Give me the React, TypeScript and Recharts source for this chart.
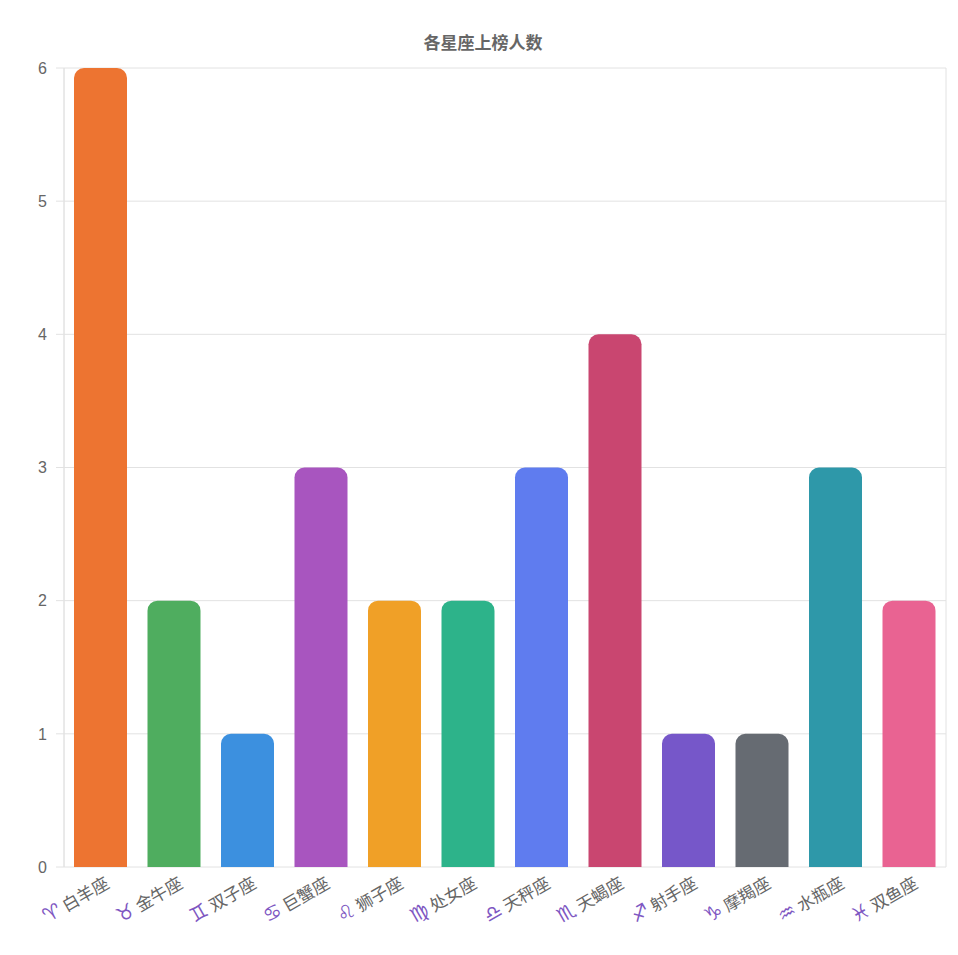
import React from 'react'
import { BarChart, Bar, XAxis, YAxis, CartesianGrid, Cell } from 'recharts'

const signs = ['♈', '♉', '♊', '♋', '♌', '♍', '♎', '♏', '♐', '♑', '♒', '♓']
const names = ['白羊座', '金牛座', '双子座', '巨蟹座', '狮子座', '处女座', '天秤座', '天蝎座', '射手座', '摩羯座', '水瓶座', '双鱼座']
const counts = [6, 2, 1, 3, 2, 2, 3, 4, 1, 1, 3, 2]
const colors = [
  '#ED7431', '#4FAD5F', '#3C90DF', '#A855BF', '#F0A027', '#2DB38A',
  '#5F7CEF', '#C94670', '#7657C9', '#666B72', '#2E98A9', '#E96392',
]
const yTicks = [0, 1, 2, 3, 4, 5, 6]
const boundaryTicks = [0, 1, 2, 3, 4, 5, 6, 7, 8, 9, 10, 11, 12]

const data = names.map((n, i) => ({ name: `${signs[i]} ${n}`, count: counts[i] }))

const GRID = '#e2e2e2'
const CJK = '"Noto Sans CJK SC", "Noto Sans", sans-serif'

function ZodiacTick({ x, y, payload }: any) {
  const [sym, name] = String(payload.value).split(' ')
  return (
    <g transform={`translate(${x + 3},${y + 8})`}>
      <text textAnchor="end" transform="rotate(-30)" dy="0.8em" fontSize={17} fill="#666" fontFamily={CJK}>
        <tspan fill="#7E57C2" fontSize={20} fontWeight={700} fontFamily='"DejaVu Sans", sans-serif'>{sym}</tspan>
        <tspan dx={4}>{name}</tspan>
      </text>
    </g>
  )
}

export default function App() {
  return (
    <div style={{ position: 'absolute', left: 0, top: 0, width: 958, height: 955, background: '#fff' }}>
      <div
        style={{
          position: 'absolute', top: 31, left: 8, width: 950, textAlign: 'center',
          fontFamily: CJK, fontWeight: 700, fontSize: 17, lineHeight: '22px', color: '#666',
        }}
      >
        各星座上榜人数
      </div>
      <BarChart width={958} height={955} data={data} margin={{ top: 68, right: 12, left: 0, bottom: 0 }}>
        <CartesianGrid xAxisId="edge" stroke={GRID} />
        <XAxis
          xAxisId="edge"
          type="number"
          domain={[0, 12]}
          ticks={boundaryTicks}
          allowDataOverflow
          height={0}
          tick={false}
          tickSize={10}
          stroke={GRID}
        />
        <XAxis
          xAxisId="cat"
          dataKey="name"
          interval={0}
          height={88}
          axisLine={false}
          tickLine={false}
          tickSize={0}
          tickMargin={0}
          tick={<ZodiacTick />}
        />
        <YAxis
          width={64}
          domain={[0, 6]}
          ticks={yTicks}
          tickSize={8}
          tickMargin={9}
          stroke={GRID}
          tick={{ fill: '#666', fontSize: 16, fontFamily: '"Liberation Sans", Arial, sans-serif' }}
        />
        <Bar xAxisId="cat" dataKey="count" barSize={53} radius={[10, 10, 0, 0]} isAnimationActive={false}>
          {data.map((d, i) => (
            <Cell key={d.name} fill={colors[i]} />
          ))}
        </Bar>
      </BarChart>
    </div>
  )
}
